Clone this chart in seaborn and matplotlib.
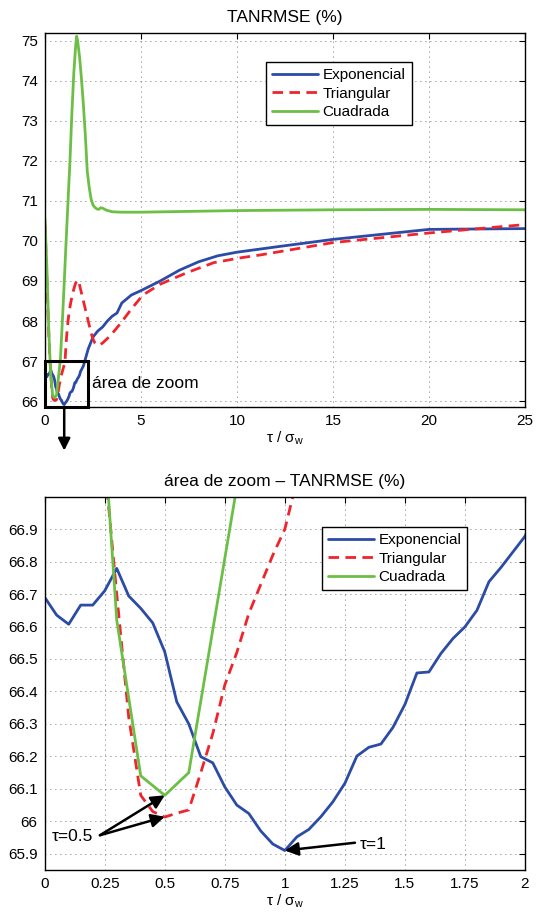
import numpy as np
import matplotlib
matplotlib.use("Agg")
import matplotlib.pyplot as plt
import seaborn as sns
from matplotlib.patches import Rectangle

# =====================================
# Data
# =====================================

# fine grid 0..2 step 0.05, then sparser points out to 25
tau_fine = np.round(np.arange(0, 2.0001, 0.05), 2)

exp_fine = [66.69, 66.635, 66.607, 66.666, 66.666, 66.71, 66.779, 66.694, 66.656, 66.611,
            66.522, 66.368, 66.30, 66.199, 66.18, 66.106, 66.05, 66.024, 65.97, 65.93,
            65.91, 65.952, 65.975, 66.014, 66.06, 66.117, 66.201, 66.228, 66.238, 66.289,
            66.36, 66.457, 66.46, 66.517, 66.563, 66.599, 66.65, 66.738, 66.782, 66.83,
            66.878]
tau_exp_far = [2.25, 2.5, 2.75, 3.0, 3.25, 3.5, 3.75, 4.0, 4.25, 4.5, 5.0, 5.5, 6.0,
               7.0, 8.0, 9.0, 10.0, 12.0, 15.0, 20.0, 25.0]
exp_far = [67.3, 67.6, 67.75, 67.85, 68.0, 68.12, 68.2, 68.45, 68.55, 68.65, 68.76,
           68.88, 69.0, 69.27, 69.48, 69.63, 69.72, 69.85, 70.04, 70.29, 70.31]

tri_fine = [70.4, 69.7, 69.0, 68.3, 67.65, 67.1, 66.7, 66.32, 66.08, 66.03,
            66.013, 66.025, 66.035, 66.15, 66.27, 66.42, 66.52, 66.64, 66.73, 66.82,
            66.9, 67.05, 67.45, 67.75, 68.0, 68.2, 68.35, 68.48, 68.6, 68.7,
            68.8, 68.88, 68.95, 69.0, 69.02, 69.0, 68.9, 68.8, 68.7, 68.6,
            68.5]
tau_tri_far = [2.1, 2.2, 2.3, 2.4, 2.5, 2.6, 2.7, 2.8, 2.9, 3.0, 3.4, 3.9, 4.5, 5.1,
               6.0, 7.4, 8.8, 10.2, 11.2, 15.0, 20.0, 25.0]
tri_far = [68.3, 68.1, 67.9, 67.7, 67.55, 67.45, 67.4, 67.4, 67.42, 67.45, 67.63,
           67.92, 68.3, 68.65, 68.92, 69.21, 69.46, 69.58, 69.65, 69.96, 70.2, 70.41]

tau_sq = [0, 0.1, 0.2, 0.3, 0.4, 0.5, 0.6, 0.7, 0.8, 0.9, 1.0, 1.1, 1.2, 1.3, 1.4,
          1.5, 1.6, 1.65, 1.7, 1.8, 1.9, 2.0, 2.1, 2.2, 2.3, 2.4, 2.5, 2.6, 2.7,
          2.8, 2.9, 3.0, 3.2, 3.5, 4.0, 5.0, 7.5, 10.0, 15.0, 20.0, 25.0]
sq_vals = [70.55, 69.3, 67.72, 66.62, 66.14, 66.08, 66.15, 66.59, 67.03, 67.95, 68.95,
           70.0, 71.0, 72.0, 73.2, 74.2, 74.9, 75.12, 75.0, 74.6, 74.05, 73.4, 72.65,
           71.75, 71.35, 71.05, 70.9, 70.84, 70.8, 70.79, 70.83, 70.82, 70.77, 70.73,
           70.72, 70.72, 70.74, 70.76, 70.78, 70.79, 70.78]

tau_exp = list(tau_fine) + tau_exp_far
exp_vals = exp_fine + exp_far
tau_tri = list(tau_fine) + tau_tri_far
tri_vals = tri_fine + tri_far

labels = ["Exponencial", "Triangular", "Cuadrada"]
colors = ["#2b4ba6", "#f0242c", "#6cbf45"]

# =====================================
# Style
# =====================================

sns.set_style("white")
plt.rcParams["font.family"] = ["Liberation Sans", "DejaVu Sans"]
plt.rcParams["mathtext.fontset"] = "custom"
plt.rcParams["mathtext.rm"] = "Liberation Sans"
plt.rcParams["mathtext.it"] = "Liberation Sans"
plt.rcParams["text.color"] = "black"
plt.rcParams["axes.labelcolor"] = "black"
plt.rcParams["axes.titlecolor"] = "black"

fig = plt.figure(figsize=(5.39, 9.13), dpi=100)
ax1 = fig.add_axes([0.0835, 0.5542, 0.8905, 0.4097])
ax2 = fig.add_axes([0.0829, 0.0471, 0.8911, 0.4089])


def draw_curves(ax):
    sns.lineplot(x=tau_exp, y=exp_vals, ax=ax, color=colors[0], lw=2.0,
                 label=labels[0], sort=False)
    sns.lineplot(x=tau_tri, y=tri_vals, ax=ax, color=colors[1], lw=2.0,
                 label=labels[1], sort=False, linestyle=(0, (3.8, 2.3)))
    sns.lineplot(x=tau_sq, y=sq_vals, ax=ax, color=colors[2], lw=2.0,
                 label=labels[2], sort=False)


def style_axis(ax):
    ax.grid(True, color="#444444", linestyle=(0, (1, 5)), lw=0.6)
    ax.tick_params(direction="in", top=True, right=True, length=4,
                   labelsize=11, colors="black", labelcolor="black", pad=5)
    for s in ax.spines.values():
        s.set_color("black")
        s.set_linewidth(1.0)
    ax.set_ylabel("")


def style_legend(ax, anchor):
    leg = ax.legend(loc="upper left", bbox_to_anchor=anchor,
                    bbox_transform=fig.transFigure, borderaxespad=0,
                    fontsize=11, handlelength=3.0, handletextpad=0.3,
                    labelspacing=0.3, borderpad=0.4, fancybox=False,
                    framealpha=1)
    leg.get_frame().set_edgecolor("black")
    leg.get_frame().set_linewidth(1.0)
    for t in leg.get_texts():
        t.set_color("black")


# =====================================
# Top panel: full range
# =====================================

draw_curves(ax1)
style_axis(ax1)
ax1.set_xlim(0, 25)
ax1.set_ylim(65.85, 75.2)
ax1.set_xticks([0, 5, 10, 15, 20, 25])
ax1.set_yticks(range(66, 76))
ax1.set_title("TANRMSE (%)", fontsize=12.5, pad=8)
ax1.set_xlabel(r"τ / σ$_{\mathrm{w}}$", fontsize=11, labelpad=1)
style_legend(ax1, (0.4935, 0.932))

ax1.add_patch(Rectangle((0, 65.85), 2.25, 1.15, fill=False, ec="black",
                        lw=2.2, clip_on=False, zorder=5))
ax1.text(2.45, 66.43, "área de zoom", fontsize=12.5, ha="left", va="center")
ax1.annotate("", xy=(1, 64.76), xytext=(1, 65.85), annotation_clip=False,
             arrowprops=dict(arrowstyle="-|>", color="black", lw=1.8,
                             mutation_scale=18, shrinkA=0, shrinkB=0))

# =====================================
# Bottom panel: zoom area
# =====================================

draw_curves(ax2)
style_axis(ax2)
ax2.set_xlim(0, 2)
ax2.set_ylim(65.85, 67.0)
ax2.set_xticks([0, 0.25, 0.5, 0.75, 1, 1.25, 1.5, 1.75, 2])
ax2.set_xticklabels(["0", "0.25", "0.5", "0.75", "1", "1.25", "1.5", "1.75", "2"])
ax2.set_yticks([65.9, 66, 66.1, 66.2, 66.3, 66.4, 66.5, 66.6, 66.7, 66.8, 66.9])
ax2.set_yticklabels(["65.9", "66", "66.1", "66.2", "66.3", "66.4", "66.5",
                     "66.6", "66.7", "66.8", "66.9"])
ax2.set_title("área de zoom – TANRMSE (%)", fontsize=12.5, pad=8)
ax2.set_xlabel(r"τ / σ$_{\mathrm{w}}$", fontsize=11, labelpad=1)
style_legend(ax2, (0.597, 0.4228))

arrow_kw = dict(arrowstyle="-|>", color="black", lw=1.8, mutation_scale=20,
                shrinkA=0, shrinkB=0)
ax2.text(0.029, 65.952, "τ=0.5", fontsize=12.5, ha="left", va="center")
ax2.annotate("", xy=(0.5, 66.08), xytext=(0.23, 65.957), arrowprops=arrow_kw)
ax2.annotate("", xy=(0.5, 66.014), xytext=(0.23, 65.957), arrowprops=arrow_kw)
ax2.text(1.313, 65.93, "τ=1", fontsize=12.5, ha="left", va="center")
ax2.annotate("", xy=(1.0, 65.91), xytext=(1.292, 65.934), arrowprops=arrow_kw)

plt.savefig("out.png", dpi=100)
